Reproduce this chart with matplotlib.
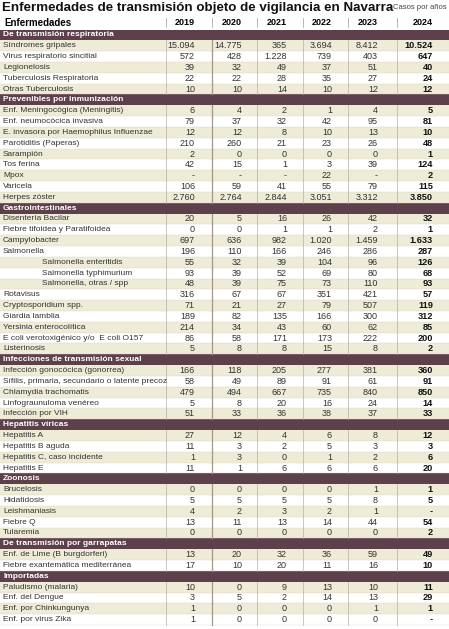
import matplotlib
matplotlib.use("Agg")
import matplotlib.pyplot as plt
from matplotlib.patches import Rectangle

plt.rcParams['font.family'] = ['Liberation Sans Narrow', 'Liberation Sans', 'DejaVu Sans']

years = ["2019", "2020", "2021", "2022", "2023", "2024"]
sections = [
    "De transmisión respiratoria", "Prevenibles por inmunización", "Gastrointestinales",
    "Infecciones de transmisión sexual", "Hepatitis víricas", "Zoonosis",
    "De transmisión por garrapatas", "Importadas",
]
respiratoria = [
    ("Síndromes gripales", ["15.094", "14.775", "365", "3.694", "8.412", "10.524"]),
    ("Virus respiratorio sincitial", ["572", "428", "1.228", "739", "403", "647"]),
    ("Legionelosis", ["39", "32", "49", "37", "51", "40"]),
    ("Tuberculosis Respiratoria", ["22", "22", "28", "35", "27", "24"]),
    ("Otras Tuberculosis", ["10", "10", "14", "10", "12", "12"]),
]
inmunizacion = [
    ("Enf. Meningocógica (Meningitis)", ["6", "4", "2", "1", "4", "5"]),
    ("Enf. neumocócica invasiva", ["79", "37", "32", "42", "95", "81"]),
    ("E. invasora por Haemophilus Influenzae", ["12", "12", "8", "10", "13", "10"]),
    ("Parotiditis (Paperas)", ["210", "260", "21", "23", "26", "48"]),
    ("Sarampión", ["2", "0", "0", "0", "0", "1"]),
    ("Tos ferina", ["42", "15", "1", "3", "39", "124"]),
    ("Mpox", ["-", "-", "-", "22", "-", "2"]),
    ("Varicela", ["106", "59", "41", "55", "79", "115"]),
    ("Herpes zóster", ["2.760", "2.764", "2.844", "3.051", "3.312", "3.850"]),
]
gastro = [
    ("Disentería Bacilar", ["20", "5", "16", "26", "42", "32"]),
    ("Fiebre tifoidea y Paratifoidea", ["0", "0", "1", "1", "2", "1"]),
    ("Campylobacter", ["697", "636", "982", "1.020", "1.459", "1.633"]),
    ("Salmonella", ["196", "110", "166", "246", "286", "287"]),
    ("    Salmonella enteritidis", ["55", "32", "39", "104", "96", "126"]),
    ("    Salmonella typhimurium", ["93", "39", "52", "69", "80", "68"]),
    ("    Salmonella, otras / spp", ["48", "39", "75", "73", "110", "93"]),
    ("Rotavisus", ["316", "67", "67", "351", "421", "57"]),
    ("Cryptosporidium spp.", ["71", "21", "27", "79", "507", "119"]),
    ("Giardia lamblia", ["189", "82", "135", "166", "300", "312"]),
    ("Yersinia enterocolítica", ["214", "34", "43", "60", "62", "85"]),
    ("E coli verotoxigénico y/o  E coli O157", ["86", "58", "171", "173", "222", "200"]),
    ("Listerinosis", ["5", "8", "8", "15", "8", "2"]),
]
sexual = [
    ("Infección gonocócica (gonorrea)", ["166", "118", "205", "277", "381", "360"]),
    ("Sífilis, primaria, secundario o latente precoz", ["58", "49", "89", "91", "61", "91"]),
    ("Chlamydia trachomatis", ["479", "494", "667", "735", "840", "850"]),
    ("Linfograunuloma venéreo", ["5", "8", "20", "16", "24", "14"]),
    ("Infección por VIH", ["51", "33", "36", "38", "37", "33"]),
]
hepatitis = [
    ("Hepatitis A", ["27", "12", "4", "6", "8", "12"]),
    ("Hepatitis B aguda", ["11", "3", "2", "5", "3", "3"]),
    ("Hepatitis C, caso incidente", ["1", "3", "0", "1", "2", "6"]),
    ("Hepatitis E", ["11", "1", "6", "6", "6", "20"]),
]
zoonosis = [
    ("Brucelosis", ["0", "0", "0", "0", "1", "1"]),
    ("Hidatidosis", ["5", "5", "5", "5", "8", "5"]),
    ("Leishmaniasis", ["4", "2", "3", "2", "1", "-"]),
    ("Fiebre Q", ["13", "11", "13", "14", "44", "54"]),
    ("Tularemia", ["0", "0", "0", "0", "0", "2"]),
]
garrapatas = [
    ("Enf. de Lime (B burgdorferi)", ["13", "20", "32", "36", "59", "49"]),
    ("Fiebre exantemática mediterránea", ["17", "10", "20", "11", "16", "10"]),
]
importadas = [
    ("Paludismo (malaria)", ["10", "0", "9", "13", "10", "11"]),
    ("Enf. del Dengue", ["3", "5", "2", "14", "13", "29"]),
    ("Enf. por Chinkungunya", ["1", "0", "0", "0", "1", "1"]),
    ("Enf. por virus Zika", ["1", "0", "0", "0", "0", "-"]),
]
groups = [respiratoria, inmunizacion, gastro, sexual, hepatitis, zoonosis, garrapatas, importadas]

W, H = 449, 629
fig = plt.figure(figsize=(W / 100, H / 100), dpi=100)
ax = fig.add_axes([0, 0, 1, 1])
ax.set_xlim(0, W)
ax.set_ylim(H, 0)
ax.axis('off')

plum = "#5e3f4c"
cream = "#eeebd6"
seps = [166, 212, 257, 303, 348, 397]
numx = [195, 242, 287, 332, 378, 433]
fs = 6.0

ax.text(2, 7.5, "Enfermedades de transmisión objeto de vigilancia en Navarra",
        fontsize=9.6, fontweight='bold', va='center', ha='left', color='#111')
ax.text(447, 7.5, "Casos por años", fontsize=5.5, va='center', ha='right', color='#444')

ax.text(4, 22.5, "Enfermedades", fontsize=7, fontweight='bold', va='center')
for x, y in zip(numx, years):
    ax.text(x, 22.5, y, fontsize=6.5, fontweight='bold', va='center', ha='right')
for s in seps:
    ax.plot([s, s], [18, 27], color='#999', lw=0.5)

top = 29.5
rh = (625 - top) / 55.0
y = top
for name, rows in zip(sections, groups):
    ax.add_patch(Rectangle((0, y), W, rh, color=plum, lw=0))
    ax.text(3, y + rh / 2, name, color='white', fontsize=fs, fontweight='bold', va='center')
    y += rh
    for i, (label, vals) in enumerate(rows):
        if i % 2 == 0:
            ax.add_patch(Rectangle((0, y), W, rh, color=cream, lw=0))
        ax.plot([0, W], [y + rh, y + rh], color='#d8d4c4', lw=0.3)
        indent = 42 if label.startswith("    ") else 3
        ax.text(indent, y + rh / 2, label.strip(), fontsize=fs, va='center', color='#333')
        for j, (x, v) in enumerate(zip(numx, vals)):
            ax.text(x, y + rh / 2, v, fontsize=fs + (0.6 if j == 5 else 0.5),
                    fontweight='bold' if j == 5 else 'normal', va='center', ha='right',
                    color='#111' if j == 5 else '#333')
        for k, s in enumerate(seps):
            ax.plot([s, s], [y, y + rh], color='#a59888' if k == 1 else '#b5b2a8',
                    lw=0.9 if k == 1 else 0.5)
        y += rh

fig.savefig("out.png", dpi=100)
